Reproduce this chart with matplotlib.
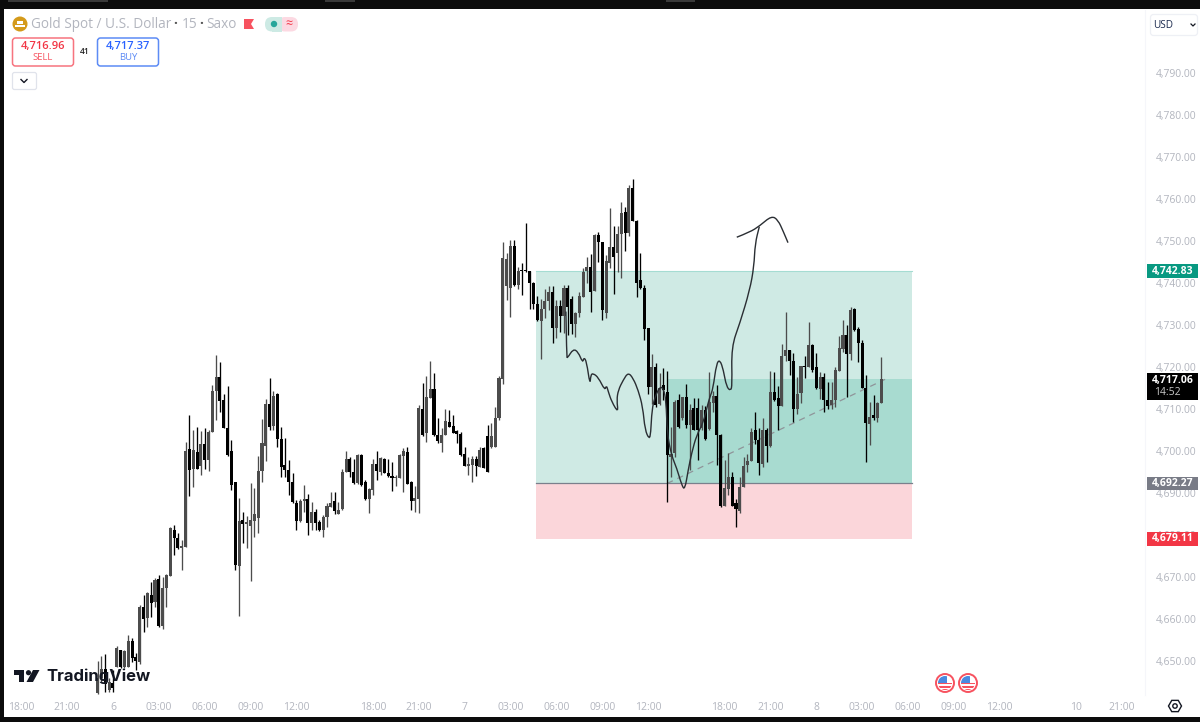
import matplotlib
matplotlib.use("Agg")
import matplotlib.pyplot as plt
from matplotlib.patches import Rectangle, FancyBboxPatch, Circle, Polygon, RegularPolygon, PathPatch
from matplotlib.path import Path
from matplotlib.transforms import blended_transform_factory

plt.rcParams['font.family'] = ['Open Sans', 'DejaVu Sans']

# candles, 15 min bars
opens = [4642.4,4646,4648,4643.1,4644.7,4648.6,4652.5,4648.5,4648.6,4654.8,4651,
    4649.8,4662.9,4660.3,4665.8,4664.1,4669.5,4658.3,4667.4,4670.3,4681.2,4679.4,4676.8,4677.2,4700.4,4695.8,4699.8,4696.4,4701.6,4697.8,4704.6,4714.3,4717.7,4712.1,4705.4,4700,4692.5,4672.7,4683.5,4682.6,4682.2,4683.4,4684.1,4695.2,4701.2,4711.3,4706,4713.5,4702.8,4696.6,4695.4,4692.7,4687.7,4683.4,4688.1,4688.5,
    4682.8,4685.5,4683.2,4681.2,4684.2,4686.7,4688.2,4685.1,4686.1,4695.1,4698.2,4695.1,4692.3,4699,4692.5,4688.6,4690.7,4697,4695.1,4698.2,4694.7,4694.1,4693.5,4693.5,4698.9,4699.8,4692.5,4688.2,4688.6,4709.9,4704.2,4712.7,4714.7,4703.8,4701.8,4703.9,4707,4705.9,4704.7,4704,4699.3,4696.5,4696.6,4698,4696.3,4700.6,4703.6,4700.9,4701,4707.9,4717.1,4739.3,4738.7,4748.9,4739.5,4743.1,4743.1,4742.8,4739.9,4735,4731,4733.9,4735.7,
    4737.9,4729.2,4734.6,4732.2,4738.7,4736.3,4730.2,4732.8,4736.7,4742.9,4743.7,4738.2,4751.4,4749.8,4732.8,4744.8,4748.5,4747.1,4751.6,4757,4751.8,4762.5,4754.8,4740.6,4738.7,4729.4,4715.3,4720.1,4711.3,4715.7,4714.1,4698.6,4699.6,4712.1,4707.8,4712.8,4706.2,4710.2,4710.2,4705.4,4709.8,4705.2,
    4711.5,4713.2,4703.8,4687,4690.9,4693.7,4687.6,4685.8,4691.5,4696.7,4697.7,4704.9,4702.6,4696.9,4704.9,4701.2,4714,4712.6,4710.8,4722.5,4724.1,4721.5,4710,4713.9,4720.3,4720.1,4725.2,4719.9,4714.8,4717.7,4712.2,4711,4712.2,4719,4724.4,4727.5,4723,4733.8,4729,4725.7,4714.9,4706.4,4708.5,4707.8,4711.4]
highs = [4650.1,4651.2,4651.6,4645.9,4647.9,4653.6,4652.6,4652.6,4656.3,4655.4,4652,
    4663.3,4665.8,4666.5,4668.7,4669.7,4670.4,4670,4670.6,4682,4682.4,4680.4,4678.8,4702.2,4708.5,4705,4705.6,4704.8,4705.4,4705,4715.8,4722.8,4721.2,4713.5,4715.4,4702.7,4692.5,4688.7,4685.4,4684.6,4692.4,4691.1,4698.8,4707.5,4712.3,4717.4,4714.3,4713.7,4705.6,4703.2,4697.8,4694.7,4688.3,4688.5,4692,4689.7,
    4687.9,4686.3,4683.6,4684.7,4687.5,4690.3,4690.3,4687.9,4695.7,4700,4698.6,4698.2,4699.4,4699.3,4693.1,4691.3,4698,4700,4698.6,4698.4,4698.2,4697.4,4694.3,4699.4,4700.6,4701,4692.9,4691.6,4710.9,4716.1,4717.8,4721.4,4718.6,4707.8,4705.4,4709.9,4709.7,4708.6,4705,4704.6,4700.9,4698.6,4698.9,4698.9,4700.9,4700.9,4706.3,4706.6,4710.4,4717.9,4749.7,4747.2,4750.2,4750.2,4743.7,4744.7,4754.2,4742.9,4740.3,4736.9,4736.1,4738.5,4739.3,
    4739.3,4735.9,4735.9,4739.5,4739.5,4736.9,4733.2,4737.9,4743.6,4746.3,4746.9,4751.7,4752.2,4749.8,4746.7,4757.9,4753.6,4753.6,4759.2,4758.2,4763.3,4764.7,4755,4747.2,4739.5,4729.4,4723.1,4721,4718.5,4719.7,4719,4705.8,4712.1,4713.6,4712.9,4715.9,4711.3,4712.7,4712.5,4710.9,4710.6,4718.9,
    4714.2,4715.6,4704,4697.9,4699.5,4695.1,4688.6,4693.8,4698.5,4699.3,4705.4,4709.4,4705.4,4707.8,4705.4,4719.1,4718.7,4715.4,4725.4,4733,4724.1,4723.3,4717.5,4720.3,4722.5,4730.8,4725.4,4723.3,4718.8,4718.5,4716.4,4716.5,4720.1,4727.3,4731.2,4730,4734.4,4734,4729.6,4726.5,4718.1,4711.6,4713.4,4711.6,4722.3]
lows = [4642.2,4645,4642.6,4642.7,4642.7,4648.5,4648.3,4648.3,4648.5,4649.8,4647.9,
    4649.4,4657,4658.1,4660.5,4662.9,4658.1,4657.5,4662.9,4670.3,4675.2,4676.6,4671.6,4677.2,4689.3,4691.5,4695.8,4694.3,4695.6,4695.3,4704.6,4707.4,4709.3,4705.4,4698.8,4690.7,4671.6,4660.7,4678.1,4677,4669,4679.6,4680.4,4692.7,4697.6,4705,4705,4701,4693.9,4693.9,4689.5,4687.7,4681.2,4683.1,4685.5,4680,
    4681.2,4681.2,4681,4679.6,4682,4686.7,4685.1,4685.1,4685.9,4695.1,4693.9,4692.1,4692.1,4691.7,4688.3,4685.3,4689.5,4693.2,4694.4,4694.7,4693.9,4690.5,4691.6,4693.5,4690.3,4692.1,4685.9,4685.5,4685.3,4703.6,4702.2,4712.7,4703.6,4701.8,4699.8,4703.8,4705.6,4704.2,4702,4698.9,4696.4,4694.3,4692.5,4694,4696.1,4695.9,4694.9,4700.6,4701,4707.4,4715.9,4735.9,4732,4739.3,4738.5,4737.1,4742.7,4733.8,4733.9,4731,4721.8,4731.6,4733.6,
    4725.8,4726.8,4728.4,4728,4727.6,4727.9,4727.2,4732,4736.6,4739.9,4733.2,4738.2,4745.1,4731.2,4731.7,4743.5,4737.4,4742.7,4741.1,4747.6,4751.3,4754.8,4736.6,4738.6,4726.4,4713.6,4711.3,4710.4,4710.9,4712.1,4687.9,4693.7,4698.6,4705.4,4707.4,4705.4,4695.5,4705,4697.9,4705,4702.6,4705,
    4709.2,4696.7,4686.6,4686.8,4689.6,4686.8,4682,4685.2,4691.5,4695.1,4697.6,4701.6,4694.2,4696.1,4697.3,4701,4711.8,4705,4710.8,4721.4,4718,4707,4708.8,4711.4,4717.3,4720.1,4718.8,4714.8,4712.4,4709.4,4710,4710,4710.4,4719,4723.5,4712.8,4721.7,4728.6,4721.3,4714.9,4697.3,4701.5,4707.4,4707,4711.4]
closes = [4646,4648,4644.5,4645.1,4643.5,4653.2,4648.5,4652.4,4654.8,4650.6,4650,
    4662.9,4660.1,4666.1,4663.9,4669.3,4658.3,4667.3,4670.4,4681.7,4679.3,4676.8,4677.4,4700,4695.4,4700.2,4695.8,4701.6,4697.8,4704.6,4714.3,4717.7,4711.9,4705.4,4699,4692,4672.8,4683.3,4682.6,4683.1,4683.5,4685.1,4695.2,4702,4711.2,4705.6,4713.1,4702.8,4696.2,4695.4,4692.5,4687.9,4683.4,4688.1,4688.5,4682.9,
    4685.5,4682.9,4681.2,4684.3,4686.9,4687.7,4685.8,4685.9,4695.1,4698.2,4695.1,4692.3,4699,4691.9,4688.6,4690.9,4697,4695.2,4698.4,4694.7,4694,4693.5,4693.9,4699,4700,4692.1,4688.2,4688.7,4710.3,4703.9,4712.8,4714.7,4703.8,4702.4,4703.9,4707.1,4705.8,4704.4,4704,4699,4696.5,4696.8,4698,4696.4,4700.2,4695.9,4695.1,4703.6,4707.9,4717.3,4746,4745.7,4748.9,4739.5,4742.8,4742.8,4742.8,4739.9,4735,4731.2,4733.9,4735.7,4737.9,
    4729.2,4734.6,4732.2,4738.7,4734.4,4730.2,4732.8,4736.9,4742.7,4743.9,4737.9,4751.4,4749.8,4733.6,4745.3,4748.5,4746.1,4751.6,4756.6,4751.8,4762.5,4754.8,4740.1,4738.7,4729,4715.3,4720.1,4710.9,4714.9,4714.5,4699,4699.4,4711.6,4705.8,4712.8,4706.2,4709.8,4705,4705,4709.8,4702.8,4711.7,
    4713,4703.8,4686.8,4691.3,4693.7,4687,4686.1,4691.5,4696.5,4697.7,4704.5,4702.5,4697.1,4704.9,4701.3,4714,4712.2,4710.6,4722.7,4724.1,4721.4,4710,4713.6,4720.3,4720.1,4725.2,4719.3,4715,4717.7,4712.2,4710.8,4712.2,4719.3,4724.6,4727.5,4723,4733.6,4728.8,4725.7,4714.9,4706.6,4708.2,4707.8,4711.4,4717.06]

# axis labels
time_ticks = [-20,-8,4,16,28,40,52,72,84,96,108,120,132,144,164,176,188,200,212,224,236,256,268]
time_labels = ["18:00","21:00","6","03:00","06:00","09:00","12:00","18:00","21:00","7","03:00","06:00",
               "09:00","12:00","18:00","21:00","8","03:00","06:00","09:00","12:00","10","21:00"]
price_ticks = list(range(4650, 4800, 10))

# position tool
target_price = 4742.83
entry_price = 4692.27
stop_price = 4679.11
last_price = 4717.06
pos_start, pos_end = 114.7, 213
profit_start = 149

# drawing on the chart, bar number / price
sketch_x = [122.5,122.7,122.9,124.4,125.7,126.9,127.2,127.9,128.8,129,129.6,131,132.7,133.1,133.6,134.5,136.2,135.8,136.2,137.5,138.8,140.1,141.4,142.6,143.2,144.3,144.7,145,145.8,147.1,148,148.7,149,150.1,151.5,152.8,153.6,154.5,155.4,156.7,158.4,159.7,160.2,161,161.9,162.8,163.7,164.5,165.6,166,165.8,168,170.6,171.7,172,173.1]
sketch_y = [4733.2,4722.5,4722.1,4724.3,4723.6,4721,4722.3,4721.3,4715.7,4718.1,4718.5,4717.5,4714.4,4715.7,4714.1,4711.7,4709.1,4712.1,4714.5,4716.9,4718.7,4717.3,4714.5,4710.5,4705,4702.8,4704.2,4709.8,4712.9,4715.3,4714.9,4712.1,4704.2,4699,4695.9,4691.9,4690.7,4695.5,4699.5,4703.8,4706.6,4711.4,4712.9,4714.9,4720.9,4721.7,4719.3,4715.3,4714.3,4715.7,4724.8,4730.4,4738.3,4743.9,4749.4,4753.4]
arrow_x = [167.2,170.6,173.2,176.3,178,179.4,180.6]
arrow_y = [4750.9,4752.1,4753.6,4756,4755,4752.2,4749.6]


def smooth_stroke(ax, xs, ys):
    # rounds the corners of a freehand stroke
    verts = [(xs[0], ys[0])]
    codes = [Path.MOVETO]
    for k in range(1, len(xs)-1):
        verts += [(xs[k], ys[k]), ((xs[k]+xs[k+1])/2, (ys[k]+ys[k+1])/2)]
        codes += [Path.CURVE3, Path.CURVE3]
    verts.append((xs[-1], ys[-1]))
    codes.append(Path.LINETO)
    ax.add_patch(PathPatch(Path(verts, codes), fc="none", ec="#2a2e33", lw=1.0, zorder=4))


fig = plt.figure(figsize=(12, 7.22), dpi=100, facecolor="white")
ax = fig.add_axes([4/1200, 27/722, 1141/1200, 685/722])
ax.set_xlim(-24.5, 274)
ax.set_ylim(4641.9, 4805)
for s in ax.spines.values():
    s.set_visible(False)
ax.spines["right"].set_visible(True)
ax.spines["right"].set_color("#f5f6fa")

# zones
ax.add_patch(Rectangle((pos_start, entry_price), pos_end-pos_start, target_price-entry_price, fc="#cfeae4", ec="none", zorder=1))
ax.add_patch(Rectangle((pos_start, stop_price), pos_end-pos_start, entry_price-stop_price, fc="#fbd6da", ec="none", zorder=1))
ax.add_patch(Rectangle((profit_start, entry_price), pos_end-profit_start, last_price-entry_price, fc="#a8dbd0", ec="none", zorder=1.1))
ax.plot([pos_start, pos_end], [target_price, target_price], color="#a5dcd2", lw=0.8, zorder=1.2)
ax.plot([pos_start, pos_end], [entry_price, entry_price], color="#7a808c", lw=0.9, zorder=1.2)
ax.plot([profit_start, 206], [entry_price, last_price], color="#8f9499", lw=0.9, ls=(0, (5, 4)), zorder=1.3)

# candles
for i in range(len(opens)):
    c = "#4c4c4c" if closes[i] >= opens[i] else "#000000"
    ax.vlines(i, lows[i], highs[i], color=c, lw=0.95, zorder=3)
    ax.bar(i, abs(closes[i]-opens[i]), bottom=min(opens[i], closes[i]), width=0.8, color=c, lw=0, zorder=3)

smooth_stroke(ax, sketch_x, sketch_y)
smooth_stroke(ax, arrow_x, arrow_y)

ax.yaxis.tick_right()
ax.set_yticks(price_ticks)
ax.set_yticklabels([f"{p:,.2f}" for p in price_ticks])
ax.set_xticks(time_ticks)
ax.set_xticklabels(time_labels)
ax.tick_params(axis="both", length=0, labelsize=7.5, labelcolor="#b2b5be")
ax.tick_params(axis="y", pad=8)
ax.tick_params(axis="x", pad=5)

# price tags on the scale
tr = blended_transform_factory(fig.transFigure, ax.transData)
tags = [(target_price, "#089981"), (entry_price, "#787b86"), (stop_price, "#f23645")]
for p, col in tags:
    ax.add_patch(Rectangle((1147/1200, p-1.65), 51/1200, 3.3, transform=tr, fc=col, ec="none", clip_on=False, zorder=6))
    ax.text(1173/1200, p, f"{p:,.2f}", transform=tr, color="white", fontsize=7.5, fontweight="bold", ha="center", va="center", zorder=7)
ax.add_patch(Rectangle((1147/1200, last_price-5.0), 51/1200, 6.6, transform=tr, fc="black", ec="none", clip_on=False, zorder=6))
ax.text(1173/1200, last_price-0.3, f"{last_price:,.2f}", transform=tr, color="white", fontsize=7.5, fontweight="bold", ha="center", va="center", zorder=7)
ax.text(1154/1200, last_price-3.2, "14:52", transform=tr, color="#c8c8c8", fontsize=7.5, ha="left", va="center", zorder=7)

# overlay in pixels for the header and logo
ov = fig.add_axes([0, 0, 1, 1], facecolor="none", zorder=10)
ov.set_xlim(0, 1200)
ov.set_ylim(722, 0)
ov.axis("off")

# window frame
ov.add_patch(Rectangle((0, 0), 1200, 9, fc="#0c0c0c", ec="none"))
ov.add_patch(Rectangle((0, 0), 4, 722, fc="#0c0c0c", ec="none"))
ov.add_patch(Rectangle((0, 717), 1200, 5, fc="#0c0c0c", ec="none"))
for x0, x1 in [(8, 108), (325, 355), (666, 695)]:
    ov.add_patch(Rectangle((x0, 0), x1-x0, 2, fc="#3a3a3a", ec="none"))

# header
ov.add_patch(Circle((20, 24), 7.5, fc="#d49a1a", ec="none"))
ov.add_patch(Rectangle((15, 25), 10, 2, fc="white", ec="none"))
ov.add_patch(Rectangle((17, 21), 6, 3, fc="white", ec="none"))
ov.text(31, 24.5, "Gold Spot / U.S. Dollar", color="#b2b5be", fontsize=9.8, va="center", ha="left")
ov.text(173, 24.5, "·", color="#555", fontsize=10, va="center", ha="left", fontweight="bold")
ov.text(182, 24.5, "15", color="#b2b5be", fontsize=9.8, va="center", ha="left")
ov.text(199, 24.5, "·", color="#555", fontsize=10, va="center", ha="left", fontweight="bold")
ov.text(206, 24.5, "Saxo", color="#b2b5be", fontsize=9.8, va="center", ha="left")
ov.add_patch(Polygon([(244, 19), (254, 19), (251, 24), (254, 29), (244, 29)], fc="#f7525f", ec="none"))
ov.add_patch(FancyBboxPatch((265, 17), 20, 14.5, boxstyle="round,pad=0,rounding_size=7", fc="#cdeae4", ec="none"))
ov.add_patch(FancyBboxPatch((278, 17), 20, 14.5, boxstyle="round,pad=0,rounding_size=7", fc="#fcd9e2", ec="none"))
ov.add_patch(Rectangle((272, 17), 10, 14.5, fc="#cdeae4", ec="none"))
ov.add_patch(Circle((274, 24), 3.2, fc="#26a69a", ec="none"))
ov.text(289, 24, "≈", color="#f23645", fontsize=9, ha="center", va="center")

ov.add_patch(FancyBboxPatch((12.5, 38), 61, 28, boxstyle="round,pad=0,rounding_size=3", fc="white", ec="#f7747f", lw=1.1))
ov.text(43, 46, "4,716.96", color="#f23645", fontsize=8, ha="center", va="center", fontweight="semibold")
ov.text(43, 58, "SELL", color="#f7525f", fontsize=6.8, ha="center", va="center")
ov.text(85, 51, "41", color="#222", fontsize=6, ha="center", va="center", fontweight="semibold")
ov.add_patch(FancyBboxPatch((97.5, 38), 61, 28, boxstyle="round,pad=0,rounding_size=3", fc="white", ec="#5d8bf5", lw=1.1))
ov.text(128, 46, "4,717.37", color="#2962ff", fontsize=8, ha="center", va="center", fontweight="semibold")
ov.text(128, 58, "BUY", color="#5d8bf5", fontsize=6.8, ha="center", va="center")
ov.add_patch(FancyBboxPatch((12.5, 72.5), 24, 17, boxstyle="round,pad=0,rounding_size=2", fc="white", ec="#e0e3eb", lw=0.9))
ov.plot([21, 24, 27], [79.5, 82.5, 79.5], color="#131722", lw=1.0)

# currency box
ov.add_patch(FancyBboxPatch((1150.5, 14.5), 47, 21, boxstyle="round,pad=0,rounding_size=3", fc="white", ec="#eef0f5", lw=0.9))
ov.text(1153, 25, "USD", color="#1b2a4e", fontsize=7.2, ha="left", va="center")
ov.plot([1191, 1193, 1195], [24, 26, 24], color="#131722", lw=0.9)

# TradingView logo
ov.add_patch(Polygon([(14, 670), (24, 670), (24, 682), (19, 682), (19, 675), (14, 675)], fc="#131722", ec="none"))
ov.add_patch(Circle((28.5, 672.7), 2.6, fc="#131722", ec="none"))
ov.add_patch(Polygon([(33, 670), (39.5, 670), (33, 682), (26.5, 682)], fc="#131722", ec="none"))
ov.text(46, 676, "TradingView", color="#131722", fontsize=12, fontweight="bold", family="Inter", ha="left", va="center")

# event flags
for fx in [945, 968]:
    ring = Circle((fx, 683), 9, fc="white", ec="#f7525f", lw=1.4)
    ov.add_patch(ring)
    inner = Circle((fx, 683), 7, transform=ov.transData)
    for patch in [Rectangle((fx-8, 686), 16, 1.6, fc="#f7525f", ec="none"),
                  Rectangle((fx-8, 683.2), 16, 1.2, fc="#f7525f", ec="none"),
                  Rectangle((fx-8, 688.6), 16, 1.6, fc="#f7525f", ec="none"),
                  Rectangle((fx-8, 676), 9.5, 7, fc="#4a8ae0", ec="none")]:
        ov.add_patch(patch)
        patch.set_clip_path(inner)

# settings gear
ov.add_patch(RegularPolygon((1175, 706), 6, radius=6.5, orientation=1.5708/3, fc="white", ec="#131722", lw=1.0))
ov.add_patch(Circle((1175, 706), 2.2, fc="white", ec="#131722", lw=1.0))

fig.savefig("out.png", dpi=100)
